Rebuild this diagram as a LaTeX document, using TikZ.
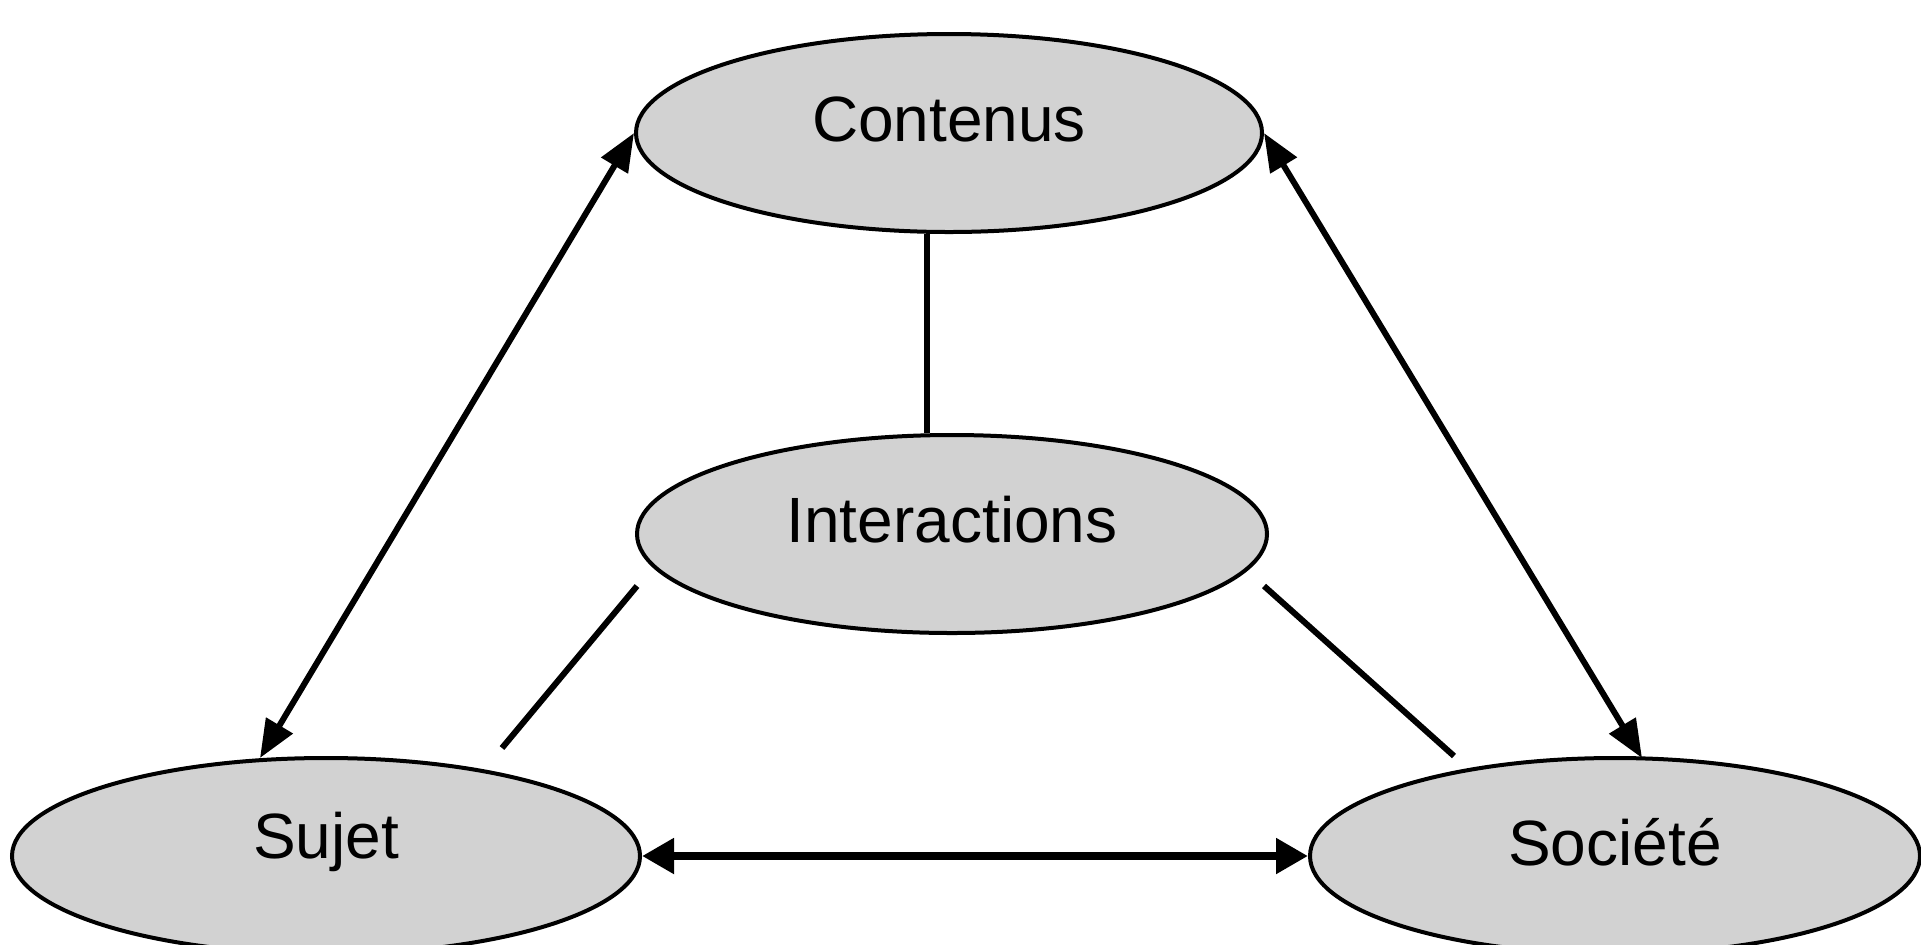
\documentclass[tikz,border=0pt]{standalone}
\usepackage{fontspec}
\setmainfont{Liberation Sans}
\usetikzlibrary{shapes.geometric,arrows.meta,calc}
\definecolor{ellfill}{RGB}{210,210,210}
\newcommand{\up}[1]{\raisebox{7pt}[\height][\depth]{#1}}
\begin{document}
\begin{tikzpicture}[x=0.5pt,y=-0.5pt,
  ell/.style={ellipse,draw=black,line width=2pt,fill=ellfill,inner sep=0pt,
    font=\fontsize{32pt}{38pt}\selectfont},
  link/.style={line width=3pt},
  biarrow/.style={line width=3pt,{Triangle[length=19pt,width=15pt]}-{Triangle[length=19pt,width=15pt]}},
  bigarrow/.style={line width=4pt,{Triangle[length=16pt,width=17pt]}-{Triangle[length=16pt,width=17pt]}}]
\useasboundingbox (0,0) rectangle (1921,944);
\begin{scope}
\clip (0,0) rectangle (1921,944);
\node[ell,minimum width=313pt,minimum height=99pt] (con) at (949,133) {\up{Contenus}};
\node[ell,minimum width=315pt,minimum height=99pt] (int) at (952,534) {\up{Interactions}};
\node[ell,minimum width=314pt,minimum height=98pt] (suj) at (326,856) {\up{Sujet}};
\node[ell,minimum width=305pt,minimum height=98pt] (soc) at (1615,856) {\up{Société}};
% vertical link
\draw[link] ($(con.south)+(-22,0)$) -- ($(int.north)+(-25,0)$);
% links from Interactions
\draw[link] ($(int)+(-315,52)$) -- ($(suj)+(176,-108)$);
\draw[link] ($(int)+(312,52)$) -- ($(soc)+(-161,-100)$);
% double arrows
\draw[biarrow] (con.west) -- ($(suj)+(-66,-98)$);
\draw[biarrow] (con.east) -- ($(soc)+(27,-98)$);
\draw[bigarrow] (suj.east) -- (soc.west);
\end{scope}
\end{tikzpicture}
\end{document}
